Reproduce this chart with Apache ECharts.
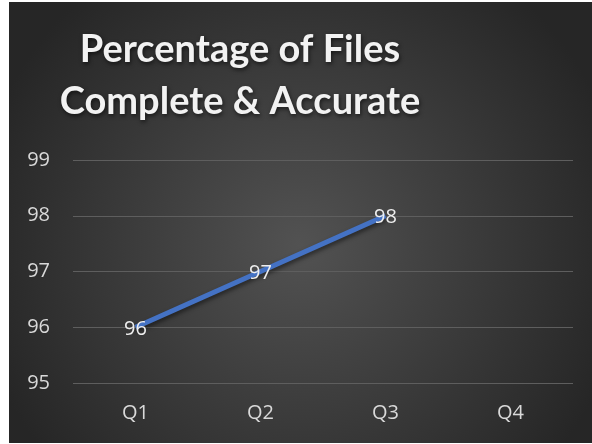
<!DOCTYPE html>
<html>
<head>
<meta charset="utf-8">
<script src="https://cdn.jsdelivr.net/npm/echarts@6/dist/echarts.min.js"></script>
<style>
    html, body { margin: 0; padding: 0; background: #ffffff; }
    #chart { position: absolute; left: 9px; top: 2px; width: 583px; height: 441px; }
</style>
</head>
<body>
<div id="chart"></div>
<script>
// chart data
var quarters = ['Q1', 'Q2', 'Q3', 'Q4'];
var percentValues = [96, 97, 98, null];
var yTicks = { min: 95, max: 99, step: 1 };

var myChart = echarts.init(document.getElementById('chart'));
var option = {
    backgroundColor: {
        type: 'radial', x: 0.5, y: 0.55, r: 0.75,
        colorStops: [
            { offset: 0, color: '#525252' },
            { offset: 1, color: '#262626' }
        ]
    },
    title: {
        text: 'Percentage of Files\nComplete & Accurate',
        left: 226,
        top: 17,
        textAlign: 'center',
        textStyle: {
            color: '#f2f2f2',
            fontFamily: 'Lato',
            fontWeight: 'bold',
            fontSize: 38,
            lineHeight: 52,
            textShadowColor: 'rgba(0,0,0,0.6)',
            textShadowBlur: 4,
            textShadowOffsetX: 1,
            textShadowOffsetY: 2
        }
    },
    grid: { left: 64, right: 19, top: 158, bottom: 60 },
    xAxis: {
        type: 'category',
        data: quarters,
        axisLine: { show: false },
        axisTick: { show: false },
        axisLabel: { color: '#d9d9d9', fontSize: 20, fontFamily: 'Open Sans', margin: 20 }
    },
    yAxis: {
        type: 'value',
        min: yTicks.min,
        max: yTicks.max,
        interval: yTicks.step,
        axisLabel: { color: '#d9d9d9', fontSize: 20, fontFamily: 'Open Sans', margin: 23 },
        splitLine: { lineStyle: { color: '#5e5e5e', width: 1 } }
    },
    series: [{
        type: 'line',
        data: percentValues,
        symbol: 'circle',
        symbolSize: 0,
        lineStyle: {
            color: '#4472c4',
            width: 5,
            shadowColor: 'rgba(0,0,0,0.5)',
            shadowBlur: 4,
            shadowOffsetY: 3
        },
        itemStyle: { color: '#4472c4' },
        label: {
            show: true,
            position: 'inside',
            offset: [0, 2],
            color: '#eeeeee',
            fontSize: 20,
            fontFamily: 'Open Sans'
        }
    }]
};
myChart.setOption(option);
</script>
</body>
</html>
